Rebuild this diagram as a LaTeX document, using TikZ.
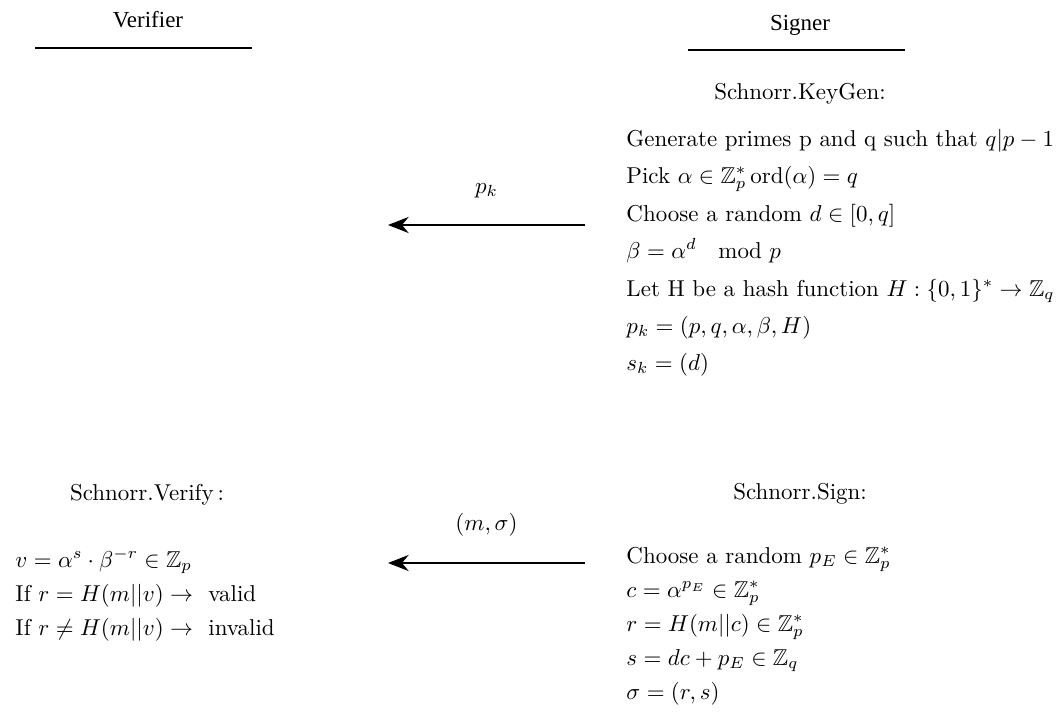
\documentclass[tikz,border=0pt]{standalone}
\usepackage{amsmath}
\usepackage{amssymb}
\usepackage{fontspec}
\newfontfamily\timesfont{Liberation Serif}
\usepackage{tikz}
\usetikzlibrary{arrows.meta,positioning}

\tikzset{
  party/.style={font=\timesfont},
  step line/.style={anchor=west, inner sep=0pt, text height=7pt, text depth=1.5pt},
  proc title/.style={inner sep=0pt},
  msg/.style={-{Stealth[length=9pt,width=7pt]}, line width=0.9pt},
}

\begin{document}
\begin{tikzpicture}[x=0.0153cm, y=-0.0153cm]
  \useasboundingbox (0,0) rectangle (1063,724);

  % Parties
  \node[party] (verifier) at (148,20) {Verifier};
  \node[party] (signer) at (800,25) {Signer};
  \coordinate (vl) at (35,48);  \coordinate (vr) at (252,48);
  \coordinate (sl) at (688,50); \coordinate (sr) at (905,50);
  \draw[line width=0.8pt] (vl) -- (vr);
  \draw[line width=0.8pt] (sl) -- (sr);

  % Key generation (signer)
  \node[proc title] (keygen) at (800,94) {Schnorr.KeyGen:};
  \node[step line] (k1) at (626,140) {Generate primes p and q such that $q|p-1$};
  \node[step line] (k2) at (626,177) {Pick $\alpha\in\mathbb{Z}_p^*\,\mathrm{ord}(\alpha)=q$};
  \node[step line] (k3) at (626,215) {Choose a random $d\in[0,q]$};
  \node[step line] (k4) at (626,252) {$\beta=\alpha^d \;\mod p$};
  \node[step line] (k5) at (626,290) {Let H be a hash function $H:\{0,1\}^*\rightarrow\mathbb{Z}_q$};
  \node[step line] (k6) at (626,327) {$p_k=(p,q,\alpha,\beta,H)$};
  \node[step line] (k7) at (626,364) {$s_k=(d)$};

  % Public key goes to verifier
  \coordinate (pkfrom) at (585,225);
  \coordinate (pkto) at (388,225);
  \draw[msg] (pkfrom) -- node[above=8pt] (pk) {$p_k$} (pkto);

  % Signing (signer)
  \node[proc title] (sign) at (800,494) {Schnorr.Sign:};
  \node[step line] (s1) at (626,557) {Choose a random $p_E\in\mathbb{Z}_p^*$};
  \node[step line] (s2) at (626,591) {$c=\alpha^{p_E}\in\mathbb{Z}_p^*$};
  \node[step line] (s3) at (626,625) {$r=H(m||c)\in\mathbb{Z}_p^*$};
  \node[step line] (s4) at (626,659) {$s=dc+p_E\in\mathbb{Z}_q$};
  \node[step line] (s5) at (626,693) {$\sigma=(r,s)$};

  % Signature goes to verifier
  \coordinate (sigfrom) at (585,563);
  \coordinate (sigto) at (388,563);
  \draw[msg] (sigfrom) -- node[above=8pt] (sig) {$(m,\sigma)$} (sigto);

  % Verification (verifier)
  \node[proc title] (verify) at (147,495) {Schnorr.Verify\,:};
  \node[step line] (v1) at (15,561) {$v=\alpha^s\cdot\beta^{-r}\in\mathbb{Z}_p$};
  \node[step line] (v2) at (15,595) {If $r=H(m||v)\rightarrow\ $ valid};
  \node[step line] (v3) at (15,629) {If $r\neq H(m||v)\rightarrow\ $ invalid};
\end{tikzpicture}
\end{document}
